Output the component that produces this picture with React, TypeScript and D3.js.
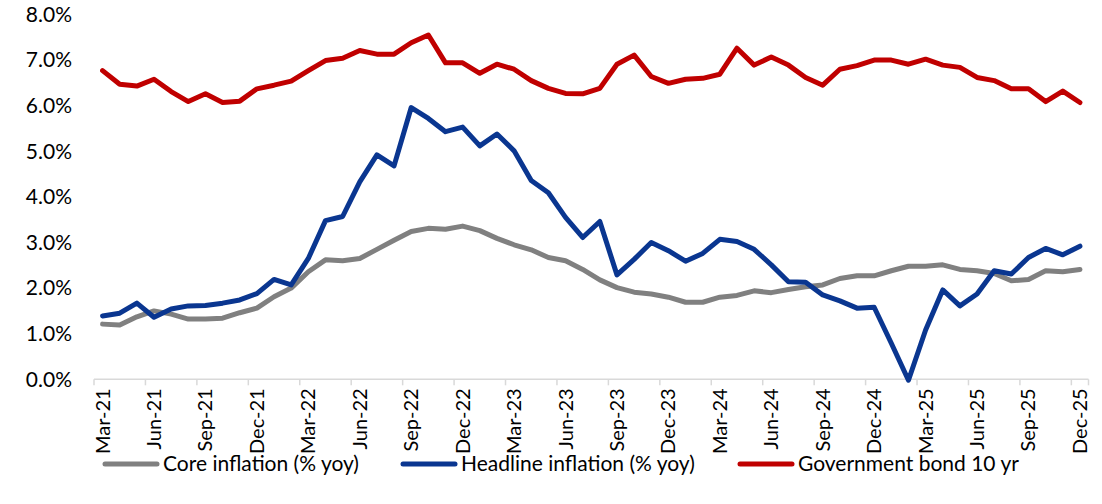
import React from "react";
import * as d3 from "d3";

const months = [
  "Mar-21","Apr-21","May-21","Jun-21","Jul-21","Aug-21","Sep-21","Oct-21","Nov-21","Dec-21",
  "Jan-22","Feb-22","Mar-22","Apr-22","May-22","Jun-22","Jul-22","Aug-22","Sep-22","Oct-22","Nov-22","Dec-22",
  "Jan-23","Feb-23","Mar-23","Apr-23","May-23","Jun-23","Jul-23","Aug-23","Sep-23","Oct-23","Nov-23","Dec-23",
  "Jan-24","Feb-24","Mar-24","Apr-24","May-24","Jun-24","Jul-24","Aug-24","Sep-24","Oct-24","Nov-24","Dec-24",
  "Jan-25","Feb-25","Mar-25","Apr-25","May-25","Jun-25","Jul-25","Aug-25","Sep-25","Oct-25","Nov-25","Dec-25",
];

const coreInflation = [
  1.21,1.19,1.37,1.50,1.43,1.32,1.32,1.34,1.46,1.56,
  1.81,2.00,2.36,2.62,2.60,2.65,2.85,3.05,3.24,3.31,3.29,3.36,
  3.26,3.09,2.95,2.84,2.67,2.60,2.41,2.18,2.01,1.91,1.87,1.80,
  1.69,1.69,1.80,1.84,1.94,1.90,1.97,2.03,2.07,2.21,2.27,2.27,
  2.38,2.48,2.48,2.51,2.41,2.38,2.32,2.16,2.19,2.38,2.36,2.41,
];

const headlineInflation = [
  1.39,1.45,1.67,1.36,1.54,1.61,1.62,1.67,1.74,1.88,
  2.19,2.07,2.65,3.48,3.57,4.33,4.92,4.68,5.96,5.72,5.43,5.53,
  5.12,5.38,5.01,4.36,4.09,3.55,3.11,3.46,2.29,2.63,3.00,2.82,
  2.59,2.76,3.07,3.02,2.85,2.51,2.14,2.13,1.85,1.72,1.56,1.58,
  0.79,-0.02,1.08,1.96,1.61,1.87,2.38,2.31,2.67,2.87,2.73,2.92,
];

const govBond10yr = [
  6.77,6.47,6.43,6.58,6.31,6.09,6.26,6.07,6.10,6.37,
  6.45,6.54,6.77,6.99,7.04,7.21,7.13,7.13,7.38,7.55,6.94,6.94,
  6.71,6.91,6.80,6.55,6.38,6.27,6.26,6.38,6.91,7.11,6.64,6.49,
  6.58,6.60,6.69,7.26,6.89,7.07,6.89,6.62,6.45,6.80,6.88,7.00,
  7.00,6.91,7.02,6.89,6.84,6.62,6.55,6.37,6.37,6.09,6.32,6.07,
];

const yTicks = [0, 1, 2, 3, 4, 5, 6, 7, 8];

const seriesList = [
  { name: "Core inflation (% yoy)", values: coreInflation, color: "#808080" },
  { name: "Headline inflation (% yoy)", values: headlineInflation, color: "#0A3690" },
  { name: "Government bond 10 yr", values: govBond10yr, color: "#C00000" },
];

const FONT = "Lato, 'Liberation Sans', sans-serif";

export default function App() {
  const W = 1102;
  const H = 504;
  const left = 94;
  const right = 1088.5;
  const top = 14.5;
  const bottom = 379.3;

  const x = d3.scaleBand<string>().domain(months).range([left, right]).padding(0);
  const y = d3.scaleLinear().domain([0, 8]).range([bottom, top]);
  const cx = (i: number) => (x(months[i]) as number) + x.bandwidth() / 2;

  const line = d3
    .line<number>()
    .x((_, i) => cx(i))
    .y((d) => y(d));

  const labelIdx = months.map((m, i) => i).filter((i) => /^(Mar|Jun|Sep|Dec)/.test(months[i]));
  const tickXs = labelIdx.map((i) => x(months[i]) as number);
  tickXs.push(right);

  const legendItems = [
    { sx: 105, tx: 163 },
    { sx: 403, tx: 461 },
    { sx: 740, tx: 798 },
  ];

  return (
    <svg width={W} height={H} style={{ position: "absolute", left: 0, top: 0, background: "#fff" }}>
      <rect x={0} y={0} width={W} height={H} fill="#fff" />
      {yTicks.map((t) => (
        <text
          key={t}
          x={72}
          y={y(t)}
          dy="0.35em"
          textAnchor="end"
          fontFamily={FONT}
          fontSize={21}
          fill="#000"
        >
          {t.toFixed(1) + "%"}
        </text>
      ))}
      <line x1={left} x2={right} y1={bottom} y2={bottom} stroke="#D9D9D9" strokeWidth={1.5} />
      {tickXs.map((tx, k) => (
        <line key={k} x1={tx} x2={tx} y1={bottom} y2={bottom + 6} stroke="#D9D9D9" strokeWidth={1.5} />
      ))}
      {labelIdx.map((i) => (
        <text
          key={i}
          transform={`translate(${cx(i)},${bottom + 9}) rotate(-90)`}
          textAnchor="end"
          dy="0.35em"
          fontFamily={FONT}
          fontSize={20}
          fill="#000"
        >
          {months[i]}
        </text>
      ))}
      {seriesList.map((s) => (
        <path
          key={s.name}
          d={line(s.values) || ""}
          fill="none"
          stroke={s.color}
          strokeWidth={5}
          strokeLinejoin="round"
          strokeLinecap="round"
        />
      ))}
      {seriesList.map((s, k) => (
        <g key={s.name}>
          <line
            x1={legendItems[k].sx}
            x2={legendItems[k].sx + 52}
            y1={464}
            y2={464}
            stroke={s.color}
            strokeWidth={5}
            strokeLinecap="round"
          />
          <text
            x={legendItems[k].tx}
            y={464}
            dy="0.35em"
            fontFamily={FONT}
            fontSize={21}
            fill="#000"
          >
            {s.name}
          </text>
        </g>
      ))}
    </svg>
  );
}
